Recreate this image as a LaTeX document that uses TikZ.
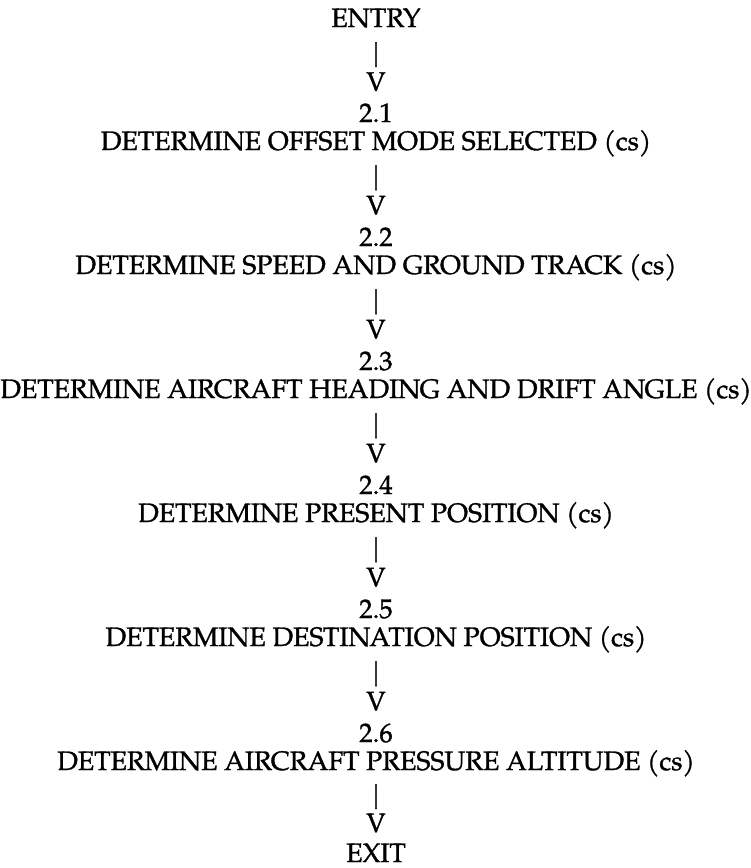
\documentclass[tikz,border=0pt]{standalone}
\usepackage{fontspec}
\setmainfont{TeX Gyre Pagella}
\newcommand{\myfont}{\fontsize{26.7}{30}\selectfont\addfontfeatures{FakeBold=1.2}}
\tikzset{
  x=1pt, y=-1pt,
  lbl/.style={font=\myfont, inner sep=0pt, anchor=base},
  glyph/.style={font=\myfont, inner sep=0pt, anchor=center},
  flow/.style={draw=none}
}
\newcommand{\conn}[2]{\path[flow] (#1.base) -- node[glyph,pos=0.29]{\scalebox{1.1}[1.15]{|}} node[glyph,pos=0.575]{V} (#2.base);}
\begin{document}
\begin{tikzpicture}
\useasboundingbox (0,0) rectangle (751,868);
\node[lbl] (entry) at (376,27) {ENTRY};
\node[lbl] (n1) at (376,122) {2.1};
\node[lbl] (t1) at (376,150) {DETERMINE OFFSET MODE SELECTED (cs)};
\node[lbl] (n2) at (376,246) {2.2};
\node[lbl] (t2) at (376,274) {DETERMINE SPEED AND GROUND TRACK (cs)};
\node[lbl] (n3) at (376,370) {2.3};
\node[lbl] (t3) at (376,398) {DETERMINE AIRCRAFT HEADING AND DRIFT ANGLE (cs)};
\node[lbl] (n4) at (376,494) {2.4};
\node[lbl] (t4) at (376,522) {DETERMINE PRESENT POSITION (cs)};
\node[lbl] (n5) at (376,618) {2.5};
\node[lbl] (t5) at (376,646) {DETERMINE DESTINATION POSITION (cs)};
\node[lbl] (n6) at (376,742) {2.6};
\node[lbl] (t6) at (376,770) {DETERMINE AIRCRAFT PRESSURE ALTITUDE (cs)};
\node[lbl] (exit) at (376,862) {EXIT};
\conn{entry}{n1}
\conn{t1}{n2}
\conn{t2}{n3}
\conn{t3}{n4}
\conn{t4}{n5}
\conn{t5}{n6}
\conn{t6}{exit}
\end{tikzpicture}
\end{document}
